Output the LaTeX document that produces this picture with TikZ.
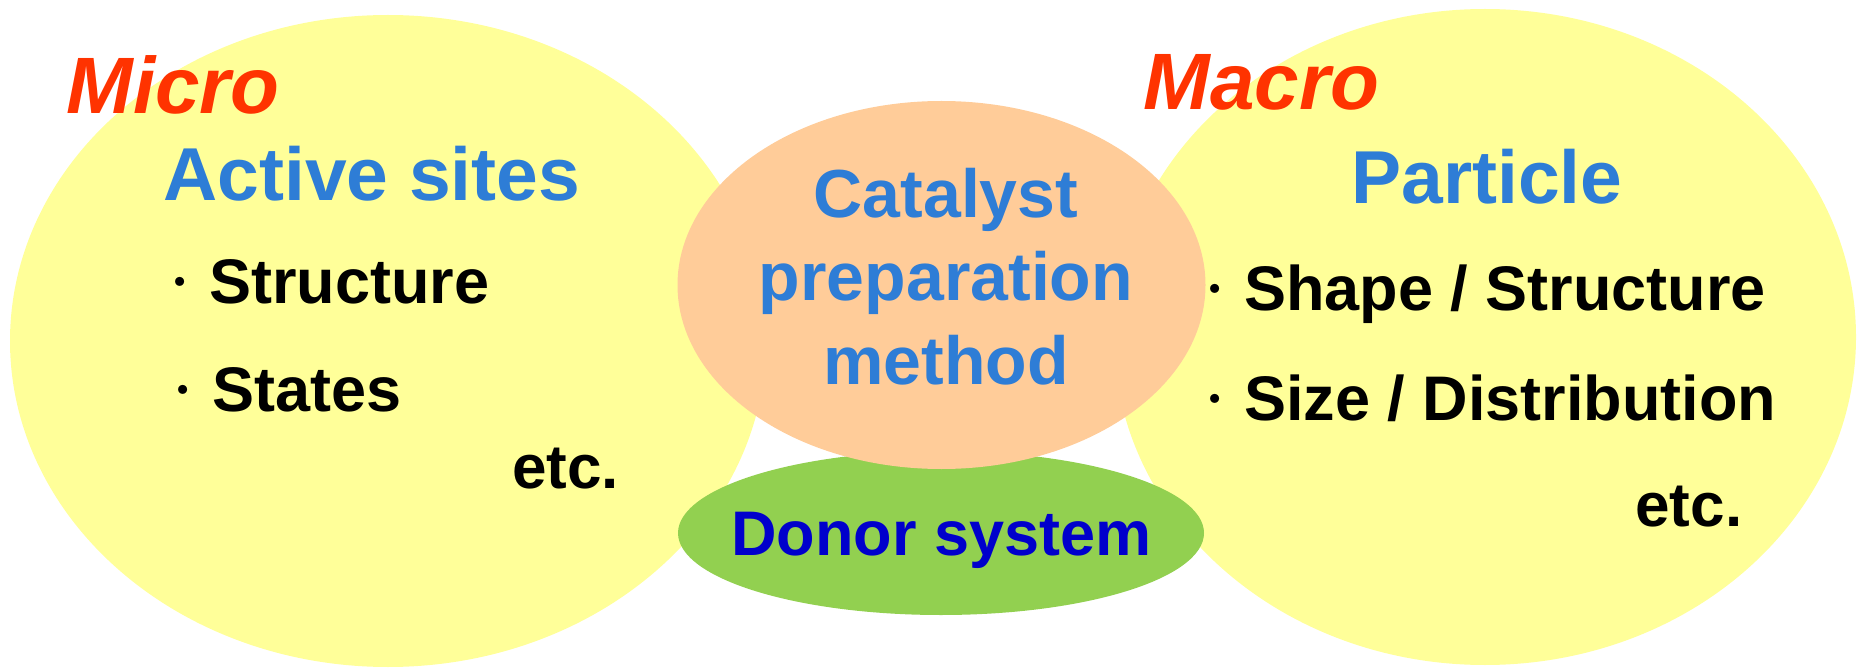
\documentclass[tikz,border=0pt]{standalone}
\usepackage{fontspec}
\setmainfont{Liberation Sans}
\newfontfamily\dotfont{Latin Modern Roman}
\definecolor{softyellow}{HTML}{FFFF99}
\definecolor{peach}{HTML}{FFCC99}
\definecolor{leafgreen}{HTML}{92D050}
\definecolor{skyblue}{HTML}{2E7DD6}
\definecolor{deepblue}{HTML}{0000CC}
\definecolor{hotred}{HTML}{FF3300}
\tikzset{
  lbl/.style={inner sep=0pt, anchor=base west, font=\bfseries},
  ctr/.style={inner sep=0pt, anchor=base, font=\bfseries},
}
\newcommand{\fsz}[1]{\fontsize{#1pt}{#1pt}\selectfont}
\newcommand{\bul}{\llap{\makebox[0pt][c]{\dotfont\bfseries ·}\hspace{14.5pt}}}
\begin{document}
\begin{tikzpicture}[x=0.5pt,y=-0.5pt]
\useasboundingbox (0,0) rectangle (1858,668);
\clip (0,0) rectangle (1858,668);
% ellipses
\fill[softyellow] (388,341) ellipse [x radius=378, y radius=326];
\fill[softyellow] (1485,337) ellipse [x radius=371, y radius=328];
\fill[leafgreen] (941,533) ellipse [x radius=263, y radius=82];
\fill[peach] (941.5,285) ellipse [x radius=264, y radius=184];
% left texts
\node[lbl, text=hotred, font=\bfseries\itshape\fsz{40}] (micro) at (66,114) {Micro};
\node[lbl, text=skyblue, font=\bfseries\fsz{37.5}] (active) at (163,201) {Active sites};
\node[lbl, font=\bfseries\fsz{31.5}] (structL) at (209,304) {\bul Structure};
\node[lbl, font=\bfseries\fsz{31.5}] (states) at (212,411) {\bul States};
\node[lbl, font=\bfseries\fsz{31}] (etcL) at (512,488) {etc.};
% center texts
\node[ctr, text=skyblue, font=\bfseries\fsz{34}] (cat1) at (946,217.5) {Catalyst};
\node[ctr, text=skyblue, font=\bfseries\fsz{34}] (cat2) at (946,300) {preparation};
\node[ctr, text=skyblue, font=\bfseries\fsz{34}] (cat3) at (946,384) {method};
\node[ctr, text=deepblue, font=\bfseries\fsz{31.5}] (donor) at (941.5,555) {Donor system};
% right texts
\node[lbl, text=hotred, font=\bfseries\itshape\fsz{40}] (macro) at (1143,110) {Macro};
\node[lbl, text=skyblue, font=\bfseries\fsz{37.5}] (particle) at (1351,204) {Particle};
\node[lbl, font=\bfseries\fsz{31.5}] (shape) at (1244,311) {\bul Shape / Structure};
\node[lbl, font=\bfseries\fsz{31.5}] (size) at (1244,420) {\bul Size / Distribution};
\node[lbl, font=\bfseries\fsz{31}] (etcR) at (1635,526) {etc.};
\end{tikzpicture}
\end{document}
